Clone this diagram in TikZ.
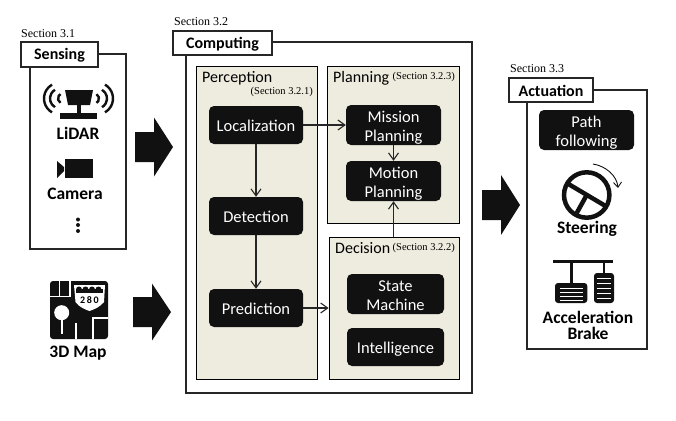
\documentclass[tikz,border=0pt]{standalone}
\usepackage{fontspec}
\setmainfont{Carlito}
\newfontfamily\secfont{Liberation Serif}
\usetikzlibrary{arrows.meta}
\definecolor{panelcream}{HTML}{EEECDE}
\definecolor{inkblack}{HTML}{111111}
\newcommand\boxtext[1]{\raisebox{-3pt}[\height][\depth]{\begin{tabular}{@{}c@{}}#1\end{tabular}}}
\tikzset{
    outerbox/.style={draw=black!85,line width=1.2pt,fill=white,inner sep=0pt},
    titlebox/.style={draw=black!85,line width=1.2pt,fill=white,inner sep=0pt,execute at begin node={\rule{0pt}{13.5pt}},font=\fontsize{16}{19}\selectfont\bfseries},
    panelbox/.style={draw=black,line width=0.8pt,fill=panelcream,inner sep=0pt},
    blackbox/.style={fill=inkblack,rounded corners=5pt,inner sep=0pt,text=white,font=\fontsize{16.5}{19}\selectfont},
    boldlabel/.style={inner sep=0pt,align=center,font=\fontsize{17.5}{16}\selectfont\bfseries},
    paneltitle/.style={anchor=west,inner sep=0pt,font=\fontsize{16}{19}\selectfont},
    sectitle/.style={anchor=west,inner sep=0pt,font=\fontsize{12}{14}\secfont},
    secsmall/.style={anchor=east,inner sep=0pt,font=\fontsize{10.5}{12}\secfont},
    conn/.style={draw=black!85,line width=1.1pt,-{Straight Barb[length=7pt,width=10pt]}},
    bigarrow/.style={fill=inkblack}
}
\begin{document}
\begin{tikzpicture}[x=1pt,y=-1pt]
    \useasboundingbox (0,0) rectangle (676,420);
    \node [outerbox,minimum width=96pt,minimum height=195pt] (sensingbox) at (78,151.5) {};
    \node [outerbox,minimum width=286pt,minimum height=351pt] (computingbox) at (329,217.5) {};
    \node [outerbox,minimum width=120pt,minimum height=259pt] (actuationbox) at (587,219.5) {};
    \node [titlebox,minimum width=77pt,minimum height=25pt] (sensing) at (59.5,54.5) {Sensing};
    \node [titlebox,minimum width=99pt,minimum height=24pt] (computing) at (222.5,43) {Computing};
    \node [titlebox,minimum width=84pt,minimum height=24pt] (actuation) at (551,90) {Actuation};
    \node [sectitle] (secsensing) at (21,34) {Section 3.1};
    \node [sectitle] (seccomputing) at (174,22) {Section 3.2};
    \node [sectitle] (secactuation) at (510,69) {Section 3.3};
    \node [panelbox,minimum width=121pt,minimum height=313pt] (perception) at (256.5,222.5) {};
    \node [panelbox,minimum width=132pt,minimum height=157pt] (planning) at (393,144.5) {};
    \node [panelbox,minimum width=130pt,minimum height=142pt] (decision) at (394,308) {};
    \node [paneltitle] (perceptiontitle) at (202,78) {Perception};
    \node [secsmall] (secperception) at (313,92) {(Section 3.2.1)};
    \node [paneltitle] (planningtitle) at (333,78) {Planning};
    \node [secsmall] (secplanning) at (455,77) {(Section 3.2.3)};
    \node [paneltitle] (decisiontitle) at (335,248.5) {Decision};
    \node [secsmall] (secdecision) at (455,248) {(Section 3.2.2)};
    \node [blackbox,minimum width=94pt,minimum height=38pt] (localization) at (256,125) {\boxtext{Localization}};
    \node [blackbox,minimum width=94pt,minimum height=38pt] (detection) at (256,216) {\boxtext{Detection}};
    \node [blackbox,minimum width=94pt,minimum height=38pt] (prediction) at (256,308) {\boxtext{Prediction}};
    \node [blackbox,minimum width=95pt,minimum height=40pt] (mission) at (393.5,125) {\boxtext{Mission\\Planning}};
    \node [blackbox,minimum width=95pt,minimum height=40pt] (motion) at (393.5,181) {\boxtext{Motion\\Planning}};
    \node [blackbox,minimum width=97pt,minimum height=40pt] (statemachine) at (395.5,294) {\boxtext{State\\Machine}};
    \node [blackbox,minimum width=97pt,minimum height=38pt] (intelligence) at (395.5,347) {\boxtext{Intelligence}};
    \node [blackbox,minimum width=95pt,minimum height=40pt] (pathfollowing) at (586.5,130) {\boxtext{Path\\following}};
    \draw [conn] (localization) -- (detection);
    \draw [conn] (detection) -- (prediction);
    \draw [conn] (localization) -- (mission);
    \draw [conn] (mission) -- (motion);
    \draw [conn] (motion |- decision.north) -- (motion.south);
    \draw [conn] (prediction) -- (decision);
    \foreach \ax/\ay/\ah in {135/147/29.5,133/312/28.5,482/205/30} {
        \fill [bigarrow,shift={(\ax,\ay)}] (0,-15) -- (19,-15) -- (19,-\ah) -- (38,0) -- (19,\ah) -- (19,15) -- (0,15) -- cycle;
    }
    \fill [inkblack] (65,90) -- (93,90) -- (90,105) -- (68,105) -- cycle;
    \fill [inkblack] (76.5,105) rectangle (81,114);
    \fill [inkblack] (60,113) rectangle (97,119);
    \foreach \wx/\wr in {60/16,60/10,63/5} {
        \draw [inkblack,line width=2.4pt] (\wx,98.5) ++(120:\wr) arc [start angle=120,end angle=240,radius=\wr];
        \draw [inkblack,line width=2.4pt] ({157-\wx},98.5) ++(-60:\wr) arc [start angle=-60,end angle=60,radius=\wr];
    }
    \node [boldlabel] (lidar) at (78,133) {LiDAR};
    \fill [inkblack] (65,159) rectangle (93,178);
    \fill [inkblack] (57,161) -- (64,167) -- (64,171) -- (57,178) -- cycle;
    \node [boldlabel] (camera) at (75,194) {Camera};
    \foreach \dy in {219.5,225,231} {
        \fill [inkblack] (78,\dy) circle (2);
    }
    \fill [inkblack,rounded corners=3pt] (50,281) rectangle (108,339);
    \draw [white,line width=1.6pt] (59.5,281) -- (59.5,296);
    \draw [white,line width=1.6pt] (50,296.5) -- (70,296.5) -- (70,281);
    \fill [white] (74,285) -- (105,285) -- (104,302) .. controls (100,307) and (94,309.5) .. (89.5,311) .. controls (85,309.5) and (79,307) .. (75.5,302) -- cycle;
    \fill [inkblack] (76,289) rectangle (103,293);
    \foreach \sx in {79,85.5,92,98.5} {
        \fill [inkblack] (\sx,289.5) circle (3);
    }
    \node [inner sep=0pt,font=\fontsize{10}{12}\selectfont\bfseries] (mapshield) at (89.5,300) {2\,8\,0};
    \fill [white] (61.7,312.7) circle (7.5);
    \draw [white,line width=1.8pt] (61.7,318) -- (61.7,334);
    \draw [white,line width=1.8pt] (76,323) -- (76,339);
    \draw [white,line width=1.8pt] (108,317.7) -- (93,317.7) -- (93,339);
    \node [boldlabel] (threedmap) at (78,353) {3D Map};
    \draw [inkblack,line width=4.5pt] (586.7,195) circle (22.7);
    \draw [inkblack,line width=4.5pt] (566.7,183) -- (606.7,206.7);
    \draw [inkblack,line width=4.5pt] (586.7,195) -- (576.7,213);
    \draw [inkblack,line width=0.9pt,-{Straight Barb[length=5pt,width=8pt]}] (593,164) .. controls (606,166) and (617,176) .. (618,188);
    \node [boldlabel] (steering) at (587,229) {Steering};
    \draw [inkblack,line width=3pt] (553,261.7) -- (613,261.7);
    \draw [inkblack,line width=2.4pt] (571.3,261.7) -- (571.3,284);
    \draw [inkblack,line width=2.4pt] (604,261.7) -- (604,274);
    \fill [inkblack,rounded corners=3pt] (555,283) rectangle (587.3,303);
    \fill [inkblack,rounded corners=3pt] (594,273) rectangle (614,303);
    \foreach \py in {288.3,292.6,296.6,300} {
        \draw [white,line width=1pt] (560,\py) -- (583,\py);
    }
    \foreach \py in {278.3,283.3,288.3,293.3,298.3} {
        \draw [white,line width=1pt] (597.3,\py) -- (610.7,\py);
    }
    \node [boldlabel] (accel) at (588,325) {Acceleration\\Brake};
\end{tikzpicture}
\end{document}
